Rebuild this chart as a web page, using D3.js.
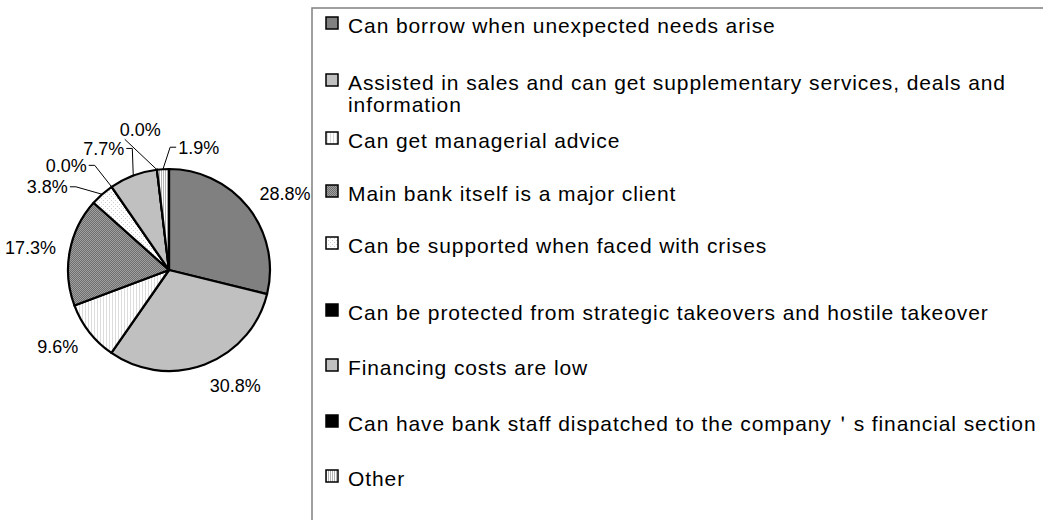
<!DOCTYPE html>
<html>
<head>
<meta charset="utf-8">
<script src="https://cdn.jsdelivr.net/npm/d3@7"></script>
<style>
  html, body { margin: 0; padding: 0; background: #fff; }
  svg { display: block; }
  text { font-family: "Liberation Sans", Arial, sans-serif; fill: #000; }
</style>
</head>
<body>
<svg id="chart" width="1043" height="520"></svg>
<script>
// Reasons for choosing a main bank (share of responses, %)
const categories = [
  "Can borrow when unexpected needs arise",
  "Assisted in sales and can get supplementary services, deals and information",
  "Can get managerial advice",
  "Main bank itself is a major client",
  "Can be supported when faced with crises",
  "Can be protected from strategic takeovers and hostile takeover",
  "Financing costs are low",
  "Can have bank staff dispatched to the company\uFF07s financial section",
  "Other"
];
const shares = [28.8, 30.8, 9.6, 17.3, 3.8, 0.0, 7.7, 0.0, 1.9];
const shareLabels = ["28.8%", "30.8%", "9.6%", "17.3%", "3.8%", "0.0%", "7.7%", "0.0%", "1.9%"];

// fill for each slice / legend key
const fills = ["#808080", "#c0c0c0", "url(#pat-advice)", "url(#pat-client)",
               "url(#pat-crisis)", "#000000", "#c0c0c0", "#000000", "url(#pat-other)"];

// label placement: small slices are pulled away from the pie and joined with leader lines
// [dx, dy, anchor, leader]
const labelNudge = [
  [0, 0, null, false], [0, 0, null, false], [0, 0, null, false], [0, 0, null, false],
  [-25, 3, "end", "side"],
  [-17, -10, "end", "side"],
  [-4, -14, "end", "side"],
  [-15, -26, "middle", "bottom"],
  [16, -8, "start", "side"]
];

const svg = d3.select("#chart");
const defs = svg.append("defs");

function pattern(id, w, h, bg, draw) {
  const p = defs.append("pattern").attr("id", id).attr("patternUnits", "userSpaceOnUse")
    .attr("width", w).attr("height", h);
  p.append("rect").attr("width", w).attr("height", h).attr("fill", bg);
  draw(p);
}
pattern("pat-advice", 3, 3, "#ffffff", p =>
  p.append("rect").attr("x", 0).attr("y", 0).attr("width", 1).attr("height", 3).attr("fill", "#dcdcdc"));
pattern("pat-other", 2, 2, "#ffffff", p =>
  p.append("rect").attr("x", 0).attr("y", 0).attr("width", 1).attr("height", 2).attr("fill", "#b4b4b4"));
pattern("pat-crisis", 4, 4, "#ffffff", p => {
  p.append("rect").attr("x", 0).attr("y", 0).attr("width", 1).attr("height", 1).attr("fill", "#cfcfcf");
  p.append("rect").attr("x", 2).attr("y", 2).attr("width", 1).attr("height", 1).attr("fill", "#cfcfcf");
});
pattern("pat-client", 2, 2, "#a0a0a0", p => {
  p.append("rect").attr("x", 0).attr("y", 0).attr("width", 1).attr("height", 1).attr("fill", "#6e6e6e");
  p.append("rect").attr("x", 1).attr("y", 1).attr("width", 1).attr("height", 1).attr("fill", "#6e6e6e");
});

// ---- legend frame (drawn first so the pie sits above it) ----
const legendX = 312, legendY = 8;
svg.append("rect")
  .attr("x", legendX).attr("y", legendY)
  .attr("width", 1043 - legendX + 20).attr("height", 520)
  .attr("fill", "#fff").attr("stroke", "#808080").attr("stroke-width", 1.5);

// ---- pie ----
const cx = 169, cy = 270, R = 101;
const pie = d3.pie().sort(null).value(d => d).startAngle(0).endAngle(2 * Math.PI);
const arcs = pie(shares);
const arc = d3.arc().innerRadius(0).outerRadius(R);

const g = svg.append("g").attr("transform", `translate(${cx},${cy})`);
g.selectAll("path.slice").data(arcs).join("path")
  .attr("class", "slice")
  .attr("d", arc)
  .attr("fill", (d, i) => fills[i])
  .attr("stroke", "#000")
  .attr("stroke-width", 2.2)
  .attr("stroke-linejoin", "round");

// ---- data labels ----
const labelSize = 18;
const labelLayer = svg.append("g");
arcs.forEach((a, i) => {
  const mid = (a.startAngle + a.endAngle) / 2;
  const s = Math.sin(mid), c = Math.cos(mid);
  const ax = cx + (R + 14) * s, ay = cy - (R + 14) * c;
  const [ndx, ndy, nAnchor, leader] = labelNudge[i];
  const anchor = nAnchor || (s >= 0 ? "start" : "end");
  const x = ax + ndx;
  const yc = leader ? ay + ndy : ay - c * 9 + ndy;
  const t = labelLayer.append("text")
    .attr("x", x).attr("y", yc).attr("dy", "0.36em")
    .attr("text-anchor", anchor)
    .attr("font-size", labelSize)
    .text(shareLabels[i]);
  if (leader) {
    const bb = t.node().getBBox();
    const ex = cx + R * s, ey = cy - R * c;
    let pts;
    if (leader === "bottom") {
      pts = [[bb.x + 5, bb.y + bb.height - 1], [ex, ey]];
    } else if (anchor === "end") {
      const px = bb.x + bb.width + 2;
      pts = [[px, yc], [px + 6, yc], [ex, ey]];
    } else {
      const px = bb.x - 2;
      pts = [[px, yc], [px - 6, yc], [ex, ey]];
    }
    labelLayer.append("path")
      .attr("d", d3.line()(pts))
      .attr("fill", "none").attr("stroke", "#000").attr("stroke-width", 1);
  }
});

// ---- legend entries ----
const rowY = [25, 82, 140, 193, 245, 312, 367, 423, 478];
const lineStep = 30;
const textX = 348, maxW = 720;
const legend = svg.append("g");
categories.forEach((name, i) => {
  const y = rowY[i];
  legend.append("rect")
    .attr("x", 326).attr("y", y - 8).attr("width", 12).attr("height", 12)
    .attr("fill", fills[i]).attr("stroke", "#000").attr("stroke-width", 1.5);
  const t = legend.append("text")
    .attr("x", textX).attr("y", y).attr("dy", "0.36em")
    .attr("font-size", 21).attr("letter-spacing", 0.9);
  // word wrap
  const words = name.split(" ");
  let line = [], lineNo = 0;
  let tspan = t.append("tspan").attr("x", textX).attr("y", y);
  words.forEach(w => {
    line.push(w);
    tspan.text(line.join(" "));
    if (tspan.node().getComputedTextLength() > maxW && line.length > 1) {
      line.pop();
      tspan.text(line.join(" "));
      line = [w];
      lineNo++;
      tspan = t.append("tspan").attr("x", textX).attr("y", y + lineNo * lineStep).text(w);
    }
  });
});
</script>
</body>
</html>
